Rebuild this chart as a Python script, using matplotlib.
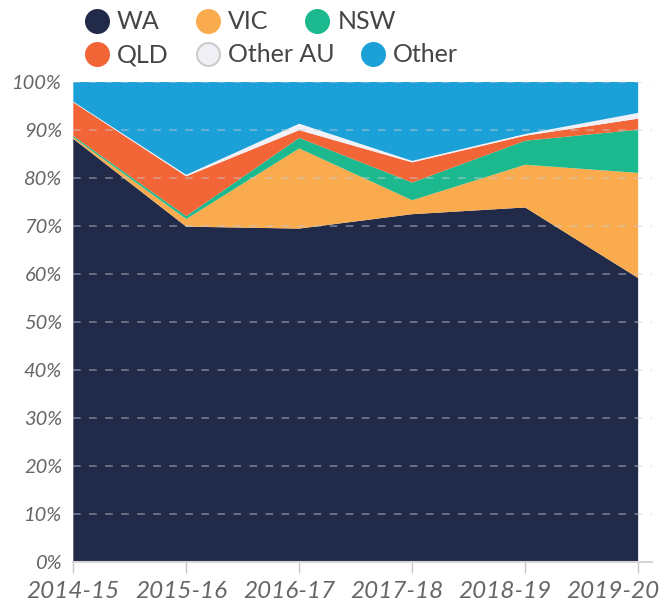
import matplotlib
matplotlib.use("Agg")
import matplotlib.pyplot as plt
import numpy as np
from matplotlib.lines import Line2D

# financial years on the x axis
years = ["2014-15", "2015-16", "2016-17", "2017-18", "2018-19", "2019-20"]

# share of total (%) per origin
wa = [88.1, 69.8, 69.4, 72.4, 73.8, 59.1]
vic = [0.3, 1.6, 16.7, 2.9, 8.9, 21.9]
nsw = [0.3, 0.6, 2.2, 3.7, 5.0, 9.0]
qld = [7.0, 8.3, 1.6, 4.2, 1.05, 2.3]
other_au = [0.15, 0.3, 1.35, 0.3, 0.35, 1.2]
other = [4.15, 19.4, 8.75, 16.5, 10.9, 6.5]

series_names = ["WA", "VIC", "NSW", "QLD", "Other AU", "Other"]
clr = ["#212a48", "#f9ab4d", "#1cb98e", "#f26536", "#f0f0f6", "#1ba0d7"]

y_ticks = list(range(0, 101, 10))

plt.rcParams["font.family"] = ["Lato", "DejaVu Sans"]

W, H = 670, 604
fig = plt.figure(figsize=(W / 100, H / 100), dpi=100)

# axes box in pixels: left 73, right 652, top 82, bottom 562
ax = fig.add_axes([73.3 / W, (H - 561.7) / H, (651.7 - 73.3) / W, (561.7 - 81.7) / H])

x = np.arange(len(years))
ax.stackplot(x, wa, vic, nsw, qld, other_au, other, colors=clr, linewidth=0)

ax.set_xlim(0, 5.12)
ax.set_ylim(0, 100)

# y axis
ax.set_yticks(y_ticks, labels=[f"{v}%" for v in y_ticks])
ax.tick_params(axis="y", length=0, pad=8, labelsize=14.5, labelcolor="#666666")
for lbl in ax.get_yticklabels():
    lbl.set_fontstyle("italic")

# dashed grid drawn over the areas
ax.set_axisbelow(False)
ax.yaxis.grid(True, color="#c8ccd4", alpha=0.55, linewidth=1.1, linestyle=(0, (5, 5.5)))
ax.xaxis.grid(False)

# x axis: tick marks at the points, labels spread a bit tighter (as in the original)
ax.xaxis.remove_overlapping_locs = False
ax.set_xticks(x, labels=[""] * len(x))
ax.tick_params(axis="x", which="major", length=8, width=1, color="#c8c8c8")
ax.set_xticks(x * 0.956, labels=years, minor=True)
ax.tick_params(axis="x", which="minor", length=0, pad=14, labelsize=17.5, labelcolor="#666666")
for lbl in ax.get_xticklabels(minor=True):
    lbl.set_fontstyle("italic")

for side in ["top", "right", "left"]:
    ax.spines[side].set_visible(False)
ax.spines["bottom"].set_color("#d6d6d6")
ax.spines["bottom"].set_linewidth(1.5)
ax.spines["bottom"].set_zorder(4)

# custom legend, two rows laid out like the original
legend_pos = [(97, 20.7, 117), (208, 20.7, 228), (317, 20.7, 338),
              (97, 54.0, 117), (208, 54.0, 228), (373.5, 54.0, 393)]
for name, c, (cx, cy, tx) in zip(series_names, clr, legend_pos):
    edge = "#cccccc" if name == "Other AU" else c
    fig.add_artist(Line2D([cx / W], [1 - cy / H], marker="o", markersize=16.5,
                          markerfacecolor=c, markeredgecolor=edge, markeredgewidth=1.5,
                          linewidth=0, transform=fig.transFigure))
    fig.text(tx / W, 1 - (cy + 8.5) / H, name, fontsize=18, color="#454545",
             va="baseline", ha="left")

fig.savefig("out.png", dpi=100)
